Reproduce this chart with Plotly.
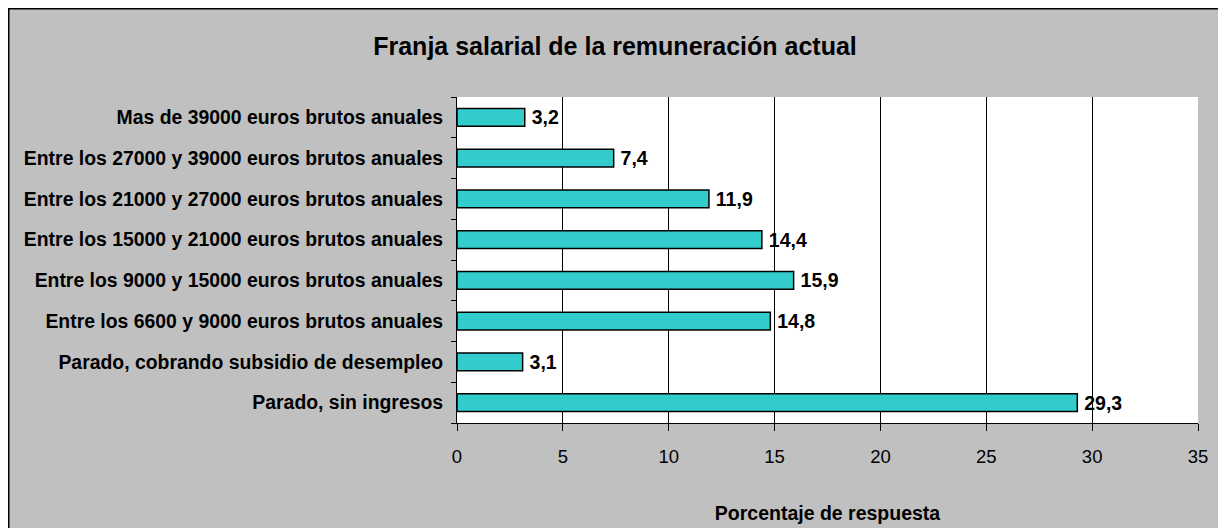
import plotly.graph_objects as go

categories = [
    "Parado, sin ingresos",
    "Parado, cobrando subsidio de desempleo",
    "Entre los 6600 y 9000 euros brutos anuales",
    "Entre los 9000 y 15000 euros brutos anuales",
    "Entre los 15000 y 21000 euros brutos anuales",
    "Entre los 21000 y 27000 euros brutos anuales",
    "Entre los 27000 y 39000 euros brutos anuales",
    "Mas de 39000 euros brutos anuales",
]
values = [29.3, 3.1, 14.8, 15.9, 14.4, 11.9, 7.4, 3.2]
x_ticks = [0, 5, 10, 15, 20, 25, 30, 35]

OFF = 8  # page body margin
W, H = 1226 - OFF, 528 - OFF
L, R, T, B = 457 - OFF, 1198 - OFF, 97 - OFF, 423 - OFF
pw, ph = R - L, B - T

def fx(p):
    # figure pixel x -> paper
    return (p - L) / pw

def fy(p):
    # figure pixel y -> paper
    return (B - p) / ph

FONT = "Liberation Sans, Arial, sans-serif"

fig = go.Figure()
fig.add_trace(go.Bar(
    y=categories, x=values, orientation="h",
    marker=dict(color="#33CCCC", line=dict(color="black", width=1.5)),
    texttemplate="\u2009<b>%{x:.1f}</b>", textposition="outside",
    constraintext="none",
    textfont=dict(family=FONT, size=19.5, color="black"),
    cliponaxis=False,
))

fig.update_layout(
    width=W, height=H,
    margin=dict(l=L, r=W - R, t=T, b=H - B),
    paper_bgcolor="white", plot_bgcolor="white",
    separators=",.",
    bargap=0.56,
    showlegend=False,
    font=dict(family=FONT, color="black"),
    title=dict(text="<b>Franja salarial de la remuneración actual</b>",
               x=(615 - OFF) / W, xanchor="center", xref="container",
               y=1 - (46 - OFF) / H, yanchor="middle", yref="container",
               font=dict(family=FONT, size=25, color="black")),
    xaxis=dict(range=[0, 35], tickvals=x_ticks, showgrid=True, gridcolor="black",
               gridwidth=1, zeroline=False, showline=True, linecolor="black",
               ticks="outside", ticklen=7, tickcolor="black", ticklabelstandoff=10,
               tickfont=dict(family=FONT, size=18.5, color="black"),
               title=dict(text="<b>Porcentaje de respuesta</b>", standoff=40,
                          font=dict(family=FONT, size=19.5, color="black"))),
    yaxis=dict(showgrid=False, showline=True, linecolor="black",
               ticks="outside", ticklen=5, tickcolor="black", tickson="boundaries",
               ticklabelstandoff=9,
               tickfont=dict(family=FONT, size=19.4, color="black", weight="bold"),
               automargin=False),
    shapes=[
        dict(type="rect", xref="paper", yref="paper", layer="below",
             x0=fx(0.75), x1=fx(1215), y0=fy(H + 20), y1=fy(0.75),
             fillcolor="#C0C0C0", line=dict(color="black", width=1.5)),
        dict(type="rect", xref="paper", yref="paper", layer="below",
             x0=0, x1=1, y0=0, y1=1, fillcolor="white", line=dict(width=0)),
    ],
)
fig.update_xaxes(automargin=False)

fig.write_html("out.html")
